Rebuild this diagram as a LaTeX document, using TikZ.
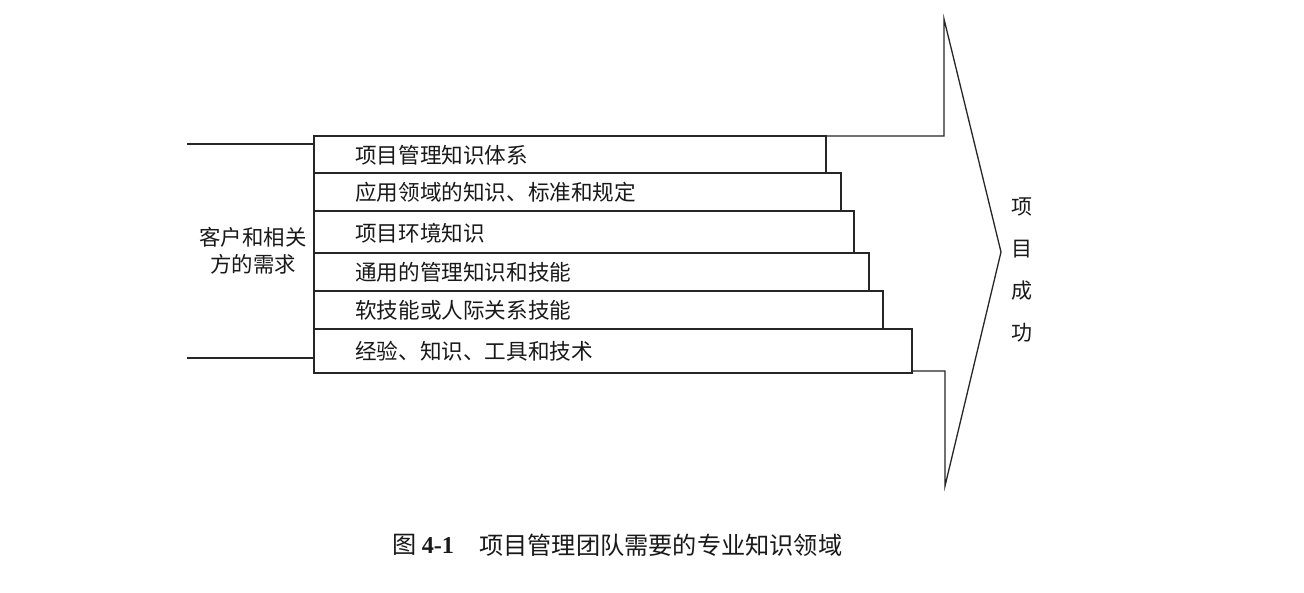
\documentclass[tikz,border=0pt]{standalone}
\usepackage{fontspec}
\setmainfont{Noto Sans CJK SC}
\newfontfamily\latfont{Liberation Serif}
\begin{document}
\begin{tikzpicture}[x=1pt,y=-1pt,
  line/.style={line width=1.3pt, draw=black!85},
  box/.style={line, rectangle, anchor=north west, inner sep=0pt, outer sep=0pt},
  lbl/.style={font=\fontsize{21.6}{24}\selectfont, anchor=west, inner sep=0pt, text=black!90},
  side/.style={font=\fontsize{21.4}{27}\selectfont, align=center, inner sep=0pt, text=black!90},
  vert/.style={font=\fontsize{21}{42}\selectfont, align=center, inner sep=0pt, text=black!90},
  captxt/.style={font=\fontsize{24.2}{28}\selectfont, anchor=west, inner sep=0pt, text=black!90}]
\useasboundingbox (0,0) rectangle (1304,592);
\fill[white] (0,0) rectangle (1304,592);
% boxes
\node[box, minimum width=512pt, minimum height=37pt] (b1) at (314,136) {};
\node[box, minimum width=527pt, minimum height=38pt] (b2) at (314,173) {};
\node[box, minimum width=540pt, minimum height=42pt] (b3) at (314,211) {};
\node[box, minimum width=555pt, minimum height=38pt] (b4) at (314,253) {};
\node[box, minimum width=569pt, minimum height=38pt] (b5) at (314,291) {};
\node[box, minimum width=598pt, minimum height=44pt] (b6) at (314,329) {};
% labels
\node[lbl] (t1) at (355,155) {项目管理知识体系};
\node[lbl] (t2) at (355,192) {应用领域的知识、标准和规定};
\node[lbl] (t3) at (355,233) {项目环境知识};
\node[lbl] (t4) at (355,272) {通用的管理知识和技能};
\node[lbl] (t5) at (355,310) {软技能或人际关系技能};
\node[lbl] (t6) at (355,351) {经验、知识、工具和技术};
% arrow outline
\coordinate (atop) at (944,19);
\coordinate (atip) at (1001,252);
\coordinate (abot) at (945,486);
\draw[line, line join=miter] (b1.north east) -- (944,136) -- (atop) -- (atip) -- (abot) -- (945,371) -- (b6.east |- 0,371);
% left brackets
\coordinate (l1) at (187,144);
\coordinate (l2) at (187,358);
\draw[line] (l1) -- (l1 -| b1.west);
\draw[line] (l2) -- (l2 -| b6.west);
% left text
\node[side] (need) at (253,251) {客户和相关\\方的需求};
% right text
\node[vert] (succ) at (1022,270) {项\\目\\成\\功};
% caption
\node[captxt] (c1) at (392,545) {图 {\latfont\bfseries 4-1}};
\node[captxt] (c2) at (479,545) {项目管理团队需要的专业知识领域};
\end{tikzpicture}
\end{document}
